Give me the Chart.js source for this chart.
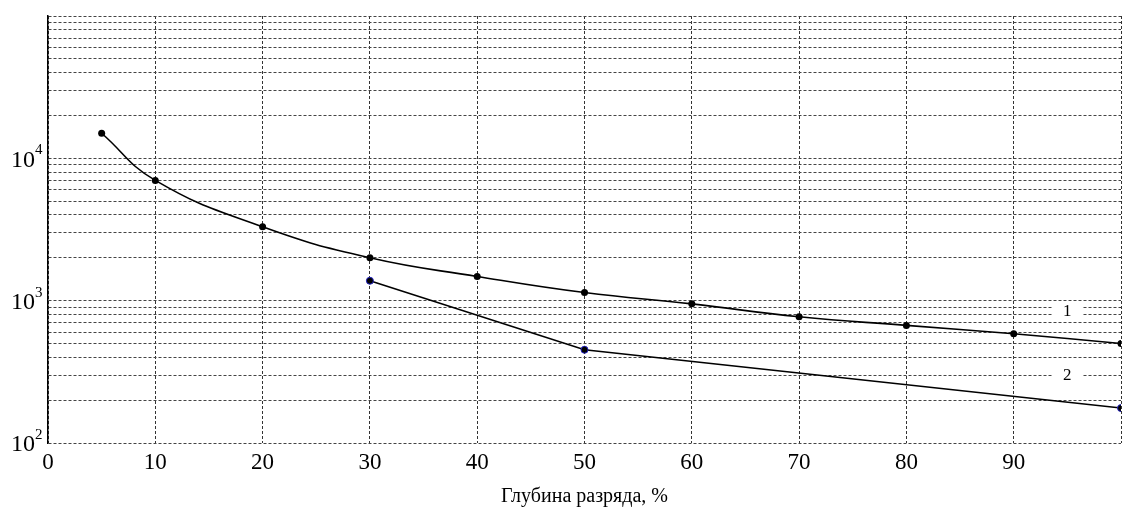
<!DOCTYPE html>
<html>
<head>
<meta charset="utf-8">
<script src="https://cdn.jsdelivr.net/npm/chart.js@4/dist/chart.umd.min.js"></script>
<style>
  html, body { margin: 0; padding: 0; background: #fff; }
  #wrap { width: 1129px; height: 515px; }
</style>
</head>
<body>
<div id="wrap"><canvas id="grafica"></canvas></div>
<script>
// глубина разряда, % / число циклов
const glubina1 = [5, 10, 20, 30, 40, 50, 60, 70, 80, 90, 100];
const cikly1 = [15000, 7000, 3300, 2000, 1480, 1140, 950, 770, 670, 585, 500];
const glubina2 = [30, 50, 100];
const cikly2 = [1380, 452, 176];
const xTicks = [0, 10, 20, 30, 40, 50, 60, 70, 80, 90, 100];
const yMajor = [100, 1000, 10000];
const yExp = ['2', '3', '4'];
const metki = [{ text: '1', x: 95, y: 836 }, { text: '2', x: 95, y: 296 }];

const serif = '"Liberation Serif", "DejaVu Serif", serif';

// все линии сетки: 1..9 * 10^n
const yTicks = [];
for (let e = 2; e <= 4; e++) {
    for (let m = 1; m <= 9; m++) yTicks.push(m * Math.pow(10, e));
}
yTicks.push(100000);

const podpisi = {
    id: 'podpisi',
    afterDraw(chart) {
        const ctx = chart.ctx;
        const sx = chart.scales.x, sy = chart.scales.y;
        ctx.save();
        ctx.fillStyle = '#000';
        // подписи оси Y в виде степеней
        for (let i = 0; i < yMajor.length; i++) {
            const y = sy.getPixelForValue(yMajor[i]);
            ctx.font = '24px ' + serif;
            ctx.textAlign = 'right';
            ctx.textBaseline = 'middle';
            ctx.fillText('10', 35, y + 2);
            ctx.font = '15px ' + serif;
            ctx.textAlign = 'left';
            ctx.fillText(yExp[i], 35, y - 8);
        }
        // номера кривых
        ctx.font = '17px ' + serif;
        ctx.textAlign = 'center';
        ctx.textBaseline = 'middle';
        metki.forEach(m => {
            const x = sx.getPixelForValue(m.x), y = sy.getPixelForValue(m.y);
            ctx.fillStyle = '#fff';
            ctx.fillRect(x - 15, y - 10, 30, 20);
            ctx.fillStyle = '#000';
            ctx.fillText(m.text, x, y);
        });
        ctx.restore();
    }
};

new Chart(document.getElementById('grafica'), {
    type: 'line',
    data: {
        datasets: [
            {
                label: '1',
                data: glubina1.map((x, i) => ({ x: x, y: cikly1[i] })),
                borderColor: '#000',
                borderWidth: 1.6,
                backgroundColor: '#000',
                pointRadius: 3.5,
                pointBorderWidth: 0,
                tension: 0.45,
            },
            {
                label: '2',
                data: glubina2.map((x, i) => ({ x: x, y: cikly2[i] })),
                borderColor: '#000',
                borderWidth: 1.6,
                backgroundColor: '#000',
                pointBorderColor: '#2020c0',
                pointRadius: 3.5,
                pointBorderWidth: 1,
                tension: 0,
            },
        ]
    },
    options: {
        responsive: true,
        maintainAspectRatio: false,
        animation: false,
        layout: { padding: { top: 16, right: 8, left: 0, bottom: 6 } },
        plugins: { legend: { display: false }, tooltip: { enabled: false } },
        scales: {
            x: {
                type: 'linear',
                min: 0,
                max: 100,
                afterBuildTicks: s => { s.ticks = xTicks.map(v => ({ value: v })); },
                afterFit: s => { s.height = 66; },
                ticks: {
                    color: '#000',
                    font: { family: serif, size: 23 },
                    padding: 6,
                    maxRotation: 0,
                    callback: v => (v === 100 ? '' : String(v)),
                },
                grid: { color: '#333', lineWidth: 1, drawTicks: false },
                border: { display: false, dash: [3, 2] },
                title: {
                    display: true,
                    text: 'Глубина разряда, %',
                    color: '#000',
                    font: { family: serif, size: 20 },
                    padding: { top: 0, bottom: 0 },
                },
            },
            y: {
                type: 'logarithmic',
                min: 100,
                max: 100000,
                afterBuildTicks: s => { s.ticks = yTicks.map(v => ({ value: v })); },
                afterFit: s => { s.width = 48; },
                ticks: { display: false },
                grid: { color: '#444', lineWidth: 1, drawTicks: false },
                border: { display: true, color: '#000', width: 1.5, dash: [3, 2] },
            }
        }
    },
    plugins: [podpisi]
});
</script>
</body>
</html>
